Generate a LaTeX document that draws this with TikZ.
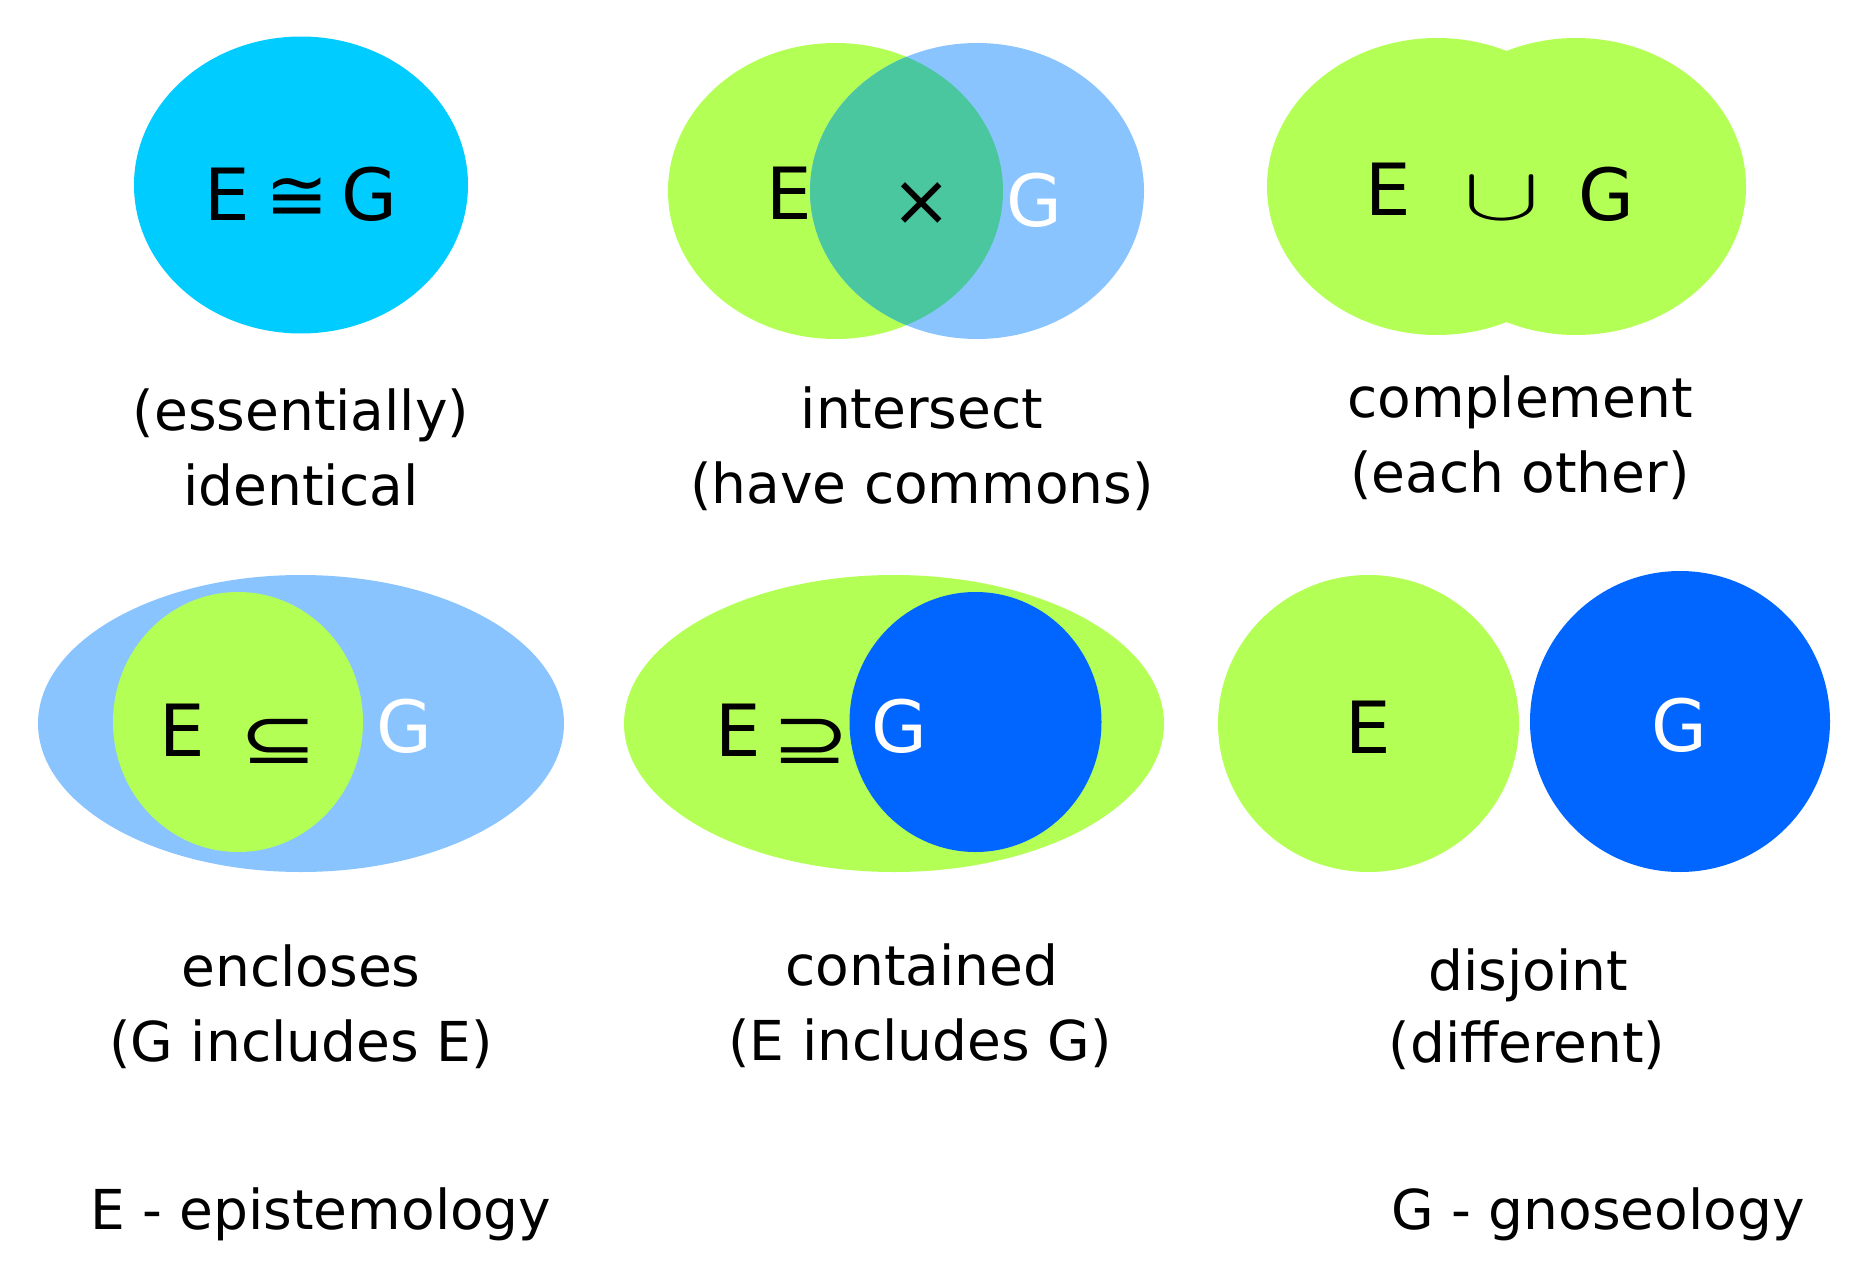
\documentclass[tikz,border=0pt]{standalone}
\usepackage{fontspec}
\setmainfont{DejaVu Sans}
\definecolor{cyanfill}{RGB}{0,204,255}
\definecolor{limefill}{RGB}{180,255,85}
\definecolor{lightblue}{RGB}{137,196,255}
\definecolor{tealfill}{RGB}{74,199,159}
\definecolor{deepblue}{RGB}{0,102,255}
\tikzset{
  big/.style={inner sep=0pt, font=\fontsize{72}{80}\selectfont},
  bigw/.style={big, text=white},
  sym/.style={inner sep=0pt, font=\fontsize{72}{80}\selectfont},
  lab/.style={inner sep=0pt, anchor=base, font=\fontsize{55}{75}\selectfont},
}
\begin{document}
\begin{tikzpicture}[x=1pt,y=-1pt]
\useasboundingbox (0,0) rectangle (1856,1276);
% panel 1: identical
\fill[cyanfill] (301,185) ellipse [x radius=167, y radius=148.5];
\node[big, anchor=base] (e1) at (227.5,221) {E};
\node[sym] (s1) at (297.5,199) {\scalebox{1.05}[1]{≅}};
\node[big, anchor=base] (g1) at (369.5,221) {G};
% panel 2: intersect
\fill[limefill] (835.5,191) ellipse [x radius=167.5, y radius=148];
\fill[lightblue] (977,191) ellipse [x radius=167, y radius=148];
\begin{scope}
  \clip (835.5,191) ellipse [x radius=167.5, y radius=148];
  \fill[tealfill] (977,191) ellipse [x radius=167, y radius=148];
\end{scope}
\node[big, anchor=base] (e2) at (789,220) {E};
\node[sym] (s2) at (922,204) {×};
\node[bigw, anchor=base] (g2) at (1034.5,227) {G};
% panel 3: complement
\fill[limefill] (1437,186.5) ellipse [x radius=170, y radius=148.5];
\fill[limefill] (1576,186.5) ellipse [x radius=170, y radius=148.5];
\node[big, anchor=base] (e3) at (1388,216) {E};
\node[inner sep=0pt, font=\normalsize] (s3) at (1501.5,199) {\scalebox{11.5}[7.5]{$\cup$}};
\node[big, anchor=base] (g3) at (1606.5,221) {G};
% panel 4: encloses
\fill[lightblue] (301,723.5) ellipse [x radius=263, y radius=148.5];
\fill[limefill] (238,722) ellipse [x radius=125, y radius=130];
\node[big, anchor=base] (e4) at (182,756) {E};
\node[sym] (s4) at (279,741) {\scalebox{1.3}[1]{⊆}};
\node[bigw, anchor=base] (g4) at (404,752) {G};
% panel 5: contained
\fill[limefill] (894,723.5) ellipse [x radius=270, y radius=148.5];
\fill[deepblue] (975.5,722) ellipse [x radius=126, y radius=130];
\node[big, anchor=base] (e5) at (738,756) {E};
\node[sym] (s5) at (811,741) {\scalebox{1.3}[1]{⊇}};
\node[bigw, anchor=base] (g5) at (899,752) {G};
% panel 6: disjoint
\fill[limefill] (1368.5,723.5) ellipse [x radius=150.5, y radius=148.5];
\fill[deepblue] (1680,721.5) ellipse [x radius=150, y radius=150.5];
\node[big, anchor=base] (e6) at (1368,753) {E};
\node[bigw, anchor=base] (g6) at (1679,751) {G};
% labels
\node[lab] (l1a) at (301,430) {(essentially)};
\node[lab] (l1b) at (301,505) {identical};
\node[lab] (l2a) at (922,428) {intersect};
\node[lab] (l2b) at (922,503) {(have commons)};
\node[lab] (l3a) at (1520,417) {complement};
\node[lab] (l3b) at (1520,492) {(each other)};
\node[lab] (l4a) at (301,986) {encloses};
\node[lab] (l4b) at (301,1061) {(G includes E)};
\node[lab] (l5a) at (922,985) {contained};
\node[lab] (l5b) at (920,1060) {(E includes G)};
\node[lab] (l6a) at (1528,990) {disjoint};
\node[lab] (l6b) at (1527,1062) {(different)};
% legend
\node[lab, anchor=base west] (leg1) at (90,1229) {E - epistemology};
\node[lab, anchor=base west] (leg2) at (1391,1229) {G - gnoseology};
\end{tikzpicture}
\end{document}
